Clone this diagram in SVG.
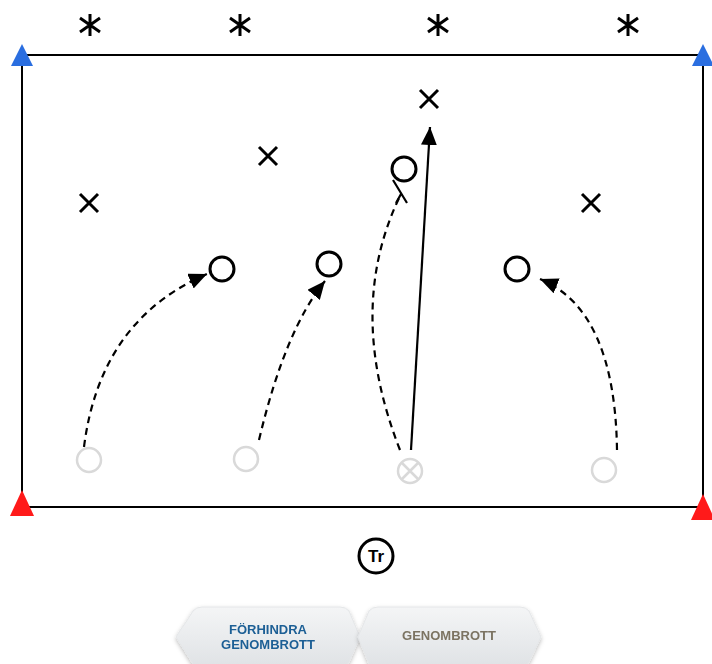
<svg xmlns="http://www.w3.org/2000/svg" width="712" height="664" viewBox="0 0 712 664">
<style>
.field{fill:none;stroke:#000;stroke-width:2}
.ast,.x{stroke:#000;stroke-width:3;stroke-linecap:butt;fill:none}
.pl{fill:#fff;stroke:#000;stroke-width:3}
.gp{fill:#fff;stroke:#d9d9d9;stroke-width:2.5}
.dash{fill:none;stroke:#000;stroke-width:2.2;stroke-dasharray:7 5}
.solid{fill:none;stroke:#000;stroke-width:2.2}
.btn{fill:url(#bg);stroke:#e4e6e8;stroke-width:1}
.bt{font-family:"Liberation Sans",Arial,sans-serif;font-weight:bold;font-size:13px;text-anchor:middle}
</style>
<defs>
<marker id="ah" markerUnits="userSpaceOnUse" markerWidth="20" markerHeight="16" refX="18" refY="8" orient="auto">
<path d="M0,0 L18,8 L0,16 z" fill="#000"/>
</marker>
<linearGradient id="bg" x1="0" y1="0" x2="0" y2="1">
<stop offset="0" stop-color="#f4f5f6"/>
<stop offset="1" stop-color="#dfe2e5"/>
</linearGradient>
<filter id="sh" x="-10%" y="-20%" width="120%" height="160%">
<feDropShadow dx="0" dy="2" stdDeviation="2" flood-color="#000" flood-opacity="0.25"/>
</filter>
</defs>

<rect class="field" x="22" y="55" width="681" height="452"/>

<g id="cone-tl"><path d="M22,44 L33,66 L11,66 z" fill="#2a6ee0"/></g>
<g id="cone-tr"><path d="M703,44 L714,66 L692,66 z" fill="#2a6ee0"/></g>
<g id="cone-bl"><path d="M22,490 L34,516 L10,516 z" fill="#ff1a1a"/></g>
<g id="cone-br"><path d="M703,494 L715,520 L691,520 z" fill="#ff1a1a"/></g>

<g id="ast1" class="ast"><path d="M90,14 V36 M80,18 L100,32 M100,18 L80,32"/></g>
<g id="ast2" class="ast"><path d="M240,14 V36 M230,18 L250,32 M250,18 L230,32"/></g>
<g id="ast3" class="ast"><path d="M438,14 V36 M428,18 L448,32 M448,18 L428,32"/></g>
<g id="ast4" class="ast"><path d="M628,14 V36 M618,18 L638,32 M638,18 L618,32"/></g>

<g id="x1" class="x"><path d="M420,90 L438,108 M438,90 L420,108"/></g>
<g id="x2" class="x"><path d="M259,147 L277,165 M277,147 L259,165"/></g>
<g id="x3" class="x"><path d="M80,194 L98,212 M98,194 L80,212"/></g>
<g id="x4" class="x"><path d="M582,194 L600,212 M600,194 L582,212"/></g>

<g id="connectors">
<path class="dash" d="M84,447 Q100,320 207,274" marker-end="url(#ah)"/>
<path class="dash" d="M259,440 Q285,330 325,281" marker-end="url(#ah)"/>
<path class="dash" d="M400,450 Q345,310 400,196"/>
<path class="solid" d="M393,180 L407,203 M401,194 L396,203"/>
<path class="dash" d="M617,450 Q615,310 540,279" marker-end="url(#ah)"/>
<path class="solid" d="M411,450 L430,127" marker-end="url(#ah)"/>
</g>

<g id="p1"><circle class="pl" cx="222" cy="269" r="12"/></g>
<g id="p2"><circle class="pl" cx="329" cy="264" r="12"/></g>
<g id="p3"><circle class="pl" cx="404" cy="169" r="12"/></g>
<g id="p4"><circle class="pl" cx="517" cy="269" r="12"/></g>

<g id="g1"><circle class="gp" cx="89" cy="460" r="12"/></g>
<g id="g2"><circle class="gp" cx="246" cy="459" r="12"/></g>
<g id="g3"><circle class="gp" cx="410" cy="471" r="12"/><path d="M401.5,462.5 L418.5,479.5 M418.5,462.5 L401.5,479.5" stroke="#d9d9d9" stroke-width="2.5"/></g>
<g id="g4"><circle class="gp" cx="604" cy="470" r="12"/></g>

<g id="trainer">
<circle cx="376" cy="556" r="17" fill="#fff" stroke="#000" stroke-width="3"/>
<text x="376" y="562" font-family="'Liberation Sans',Arial,sans-serif" font-weight="bold" font-size="17" text-anchor="middle">Tr</text>
</g>

<g id="btn1" filter="url(#sh)">
<path class="btn" d="M176,637 Q180,630 186,622 L193,611 Q196,607 202,607 L340,607 Q346,607 349,611 L360,637 L349,662 Q346,668 340,668 L202,668 Q196,668 193,664 Z"/>
<text class="bt" x="268" y="634" fill="#1d5f95">FÖRHINDRA</text>
<text class="bt" x="268" y="649" fill="#1d5f95">GENOMBROTT</text>
</g>
<g id="btn2" filter="url(#sh)">
<path class="btn" d="M358,637 L369,611 Q372,607 378,607 L520,607 Q526,607 529,611 L541,637 L529,662 Q526,668 520,668 L378,668 Q372,668 369,664 Z"/>
<text class="bt" x="449" y="640" fill="#7b7362">GENOMBROTT</text>
</g>
</svg>
